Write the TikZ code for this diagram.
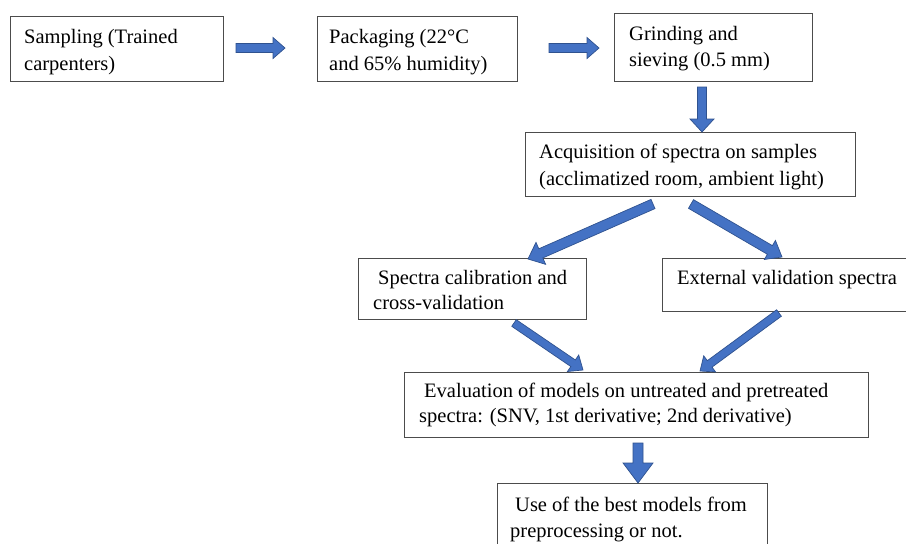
\documentclass[tikz,border=0pt]{standalone}
\usepackage{fontspec}
\setmainfont{Liberation Serif}
\usetikzlibrary{calc}
\definecolor{arrfill}{HTML}{4472C4}
\definecolor{arrline}{HTML}{2F528F}
\tikzset{
  boxnode/.style={draw=black!70, line width=0.8pt, rectangle, inner sep=0pt, anchor=north west},
  txt/.style={inner sep=0pt, anchor=base west, font=\fontsize{20.5}{27}\selectfont},
  blockarrow/.style={fill=arrfill, draw=arrline, line width=0.7pt, line join=miter}
}
% block arrow: #1 tail, #2 tip, #3 shaft half width, #4 head half width, #5 head length
\newcommand\blockarr[5]{%
  \coordinate (tmpC) at ($(#2)!#5!(#1)$);
  \path[blockarrow] ($(#1)!#3!90:(#2)$) -- ($(tmpC)!#3!90:(#2)$) -- ($(tmpC)!#4!90:(#2)$) -- (#2)
    -- ($(tmpC)!#4!-90:(#2)$) -- ($(tmpC)!#3!-90:(#2)$) -- ($(#1)!#3!-90:(#2)$) -- cycle;}
\begin{document}
\begin{tikzpicture}[x=1pt, y=-1pt]
\useasboundingbox (0,0) rectangle (906,544);
\fill[white] (0,0) rectangle (906,544);
\clip (0,0) rectangle (906,544);

% boxes
\node[boxnode, minimum width=213pt, minimum height=65pt] (b1) at (10,16) {};
\node[boxnode, minimum width=200pt, minimum height=65pt] (b2) at (317,16) {};
\node[boxnode, minimum width=198pt, minimum height=68pt] (b3) at (614,13) {};
\node[boxnode, minimum width=330pt, minimum height=64pt] (b4) at (525,132) {};
\node[boxnode, minimum width=228pt, minimum height=61pt] (b5) at (358,258) {};
\node[boxnode, minimum width=250pt, minimum height=53pt] (b6) at (662,258) {};
\node[boxnode, minimum width=464pt, minimum height=65pt] (b7) at (404,372) {};
\node[boxnode, minimum width=270pt, minimum height=70pt] (b8) at (497,483) {};

% texts
\node[txt] (t1a) at (24,43) {Sampling (Trained};
\node[txt] (t1b) at (24,70) {carpenters)};
\node[txt] (t2a) at (329,43) {Packaging (22°C};
\node[txt] (t2b) at (329,70) {and 65\% humidity)};
\node[txt] (t3a) at (629,40) {Grinding and};
\node[txt] (t3b) at (629,66) {sieving (0.5 mm)};
\node[txt] (t4a) at (539,158) {Acquisition of spectra on samples};
\node[txt] (t4b) at (539,185) {(acclimatized room, ambient light)};
\node[txt] (t5a) at (378,284) {Spectra calibration and};
\node[txt] (t5b) at (373,309) {cross-validation};
\node[txt] (t6) at (677,284) {External validation spectra};
\node[txt] (t7a) at (424,397) {Evaluation of models on untreated and pretreated};
\node[txt] (t7b) at (419,422) {spectra: (SNV, 1st derivative; 2nd derivative)};
\node[txt] (t8a) at (515,511) {Use of the best models from};
\node[txt] (t8b) at (510,537) {preprocessing or not.};

% arrow end points
\coordinate (a1s) at (236,48);  \coordinate (a1e) at (285,48);
\coordinate (a2s) at (549,48);  \coordinate (a2e) at (599,48);
\coordinate (a3s) at (702,87);  \coordinate (a3e) at (702,132);
\coordinate (a4s) at (653,204); \coordinate (a4e) at (528,259);
\coordinate (a5s) at (691,204); \coordinate (a5e) at (782,257);
\coordinate (a6s) at (514,323); \coordinate (a6e) at (583,370);
\coordinate (a7s) at (779,313); \coordinate (a7e) at (700,371);
\coordinate (a8s) at (638,443); \coordinate (a8e) at (638,483);

\blockarr{a1s}{a1e}{4.5pt}{10.5pt}{12pt}
\blockarr{a2s}{a2e}{4.5pt}{10.5pt}{12pt}
\blockarr{a3s}{a3e}{4.5pt}{12pt}{13pt}
\blockarr{a4s}{a4e}{5pt}{12pt}{14pt}
\blockarr{a5s}{a5e}{5pt}{11pt}{14pt}
\blockarr{a6s}{a6e}{4pt}{10pt}{12pt}
\blockarr{a7s}{a7e}{4pt}{10pt}{12pt}
\blockarr{a8s}{a8e}{5pt}{15pt}{20pt}
\end{tikzpicture}
\end{document}
